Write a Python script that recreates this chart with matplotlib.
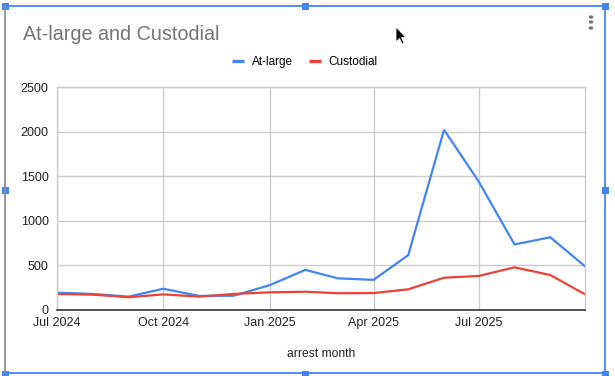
import matplotlib
matplotlib.use("Agg")
import matplotlib.pyplot as plt
import matplotlib.dates as mdates
from matplotlib.lines import Line2D
from matplotlib.patches import Rectangle, Polygon, Circle
import pandas as pd

# ---------------------------------------------------------------------------
# Data
# ---------------------------------------------------------------------------

months = pd.date_range("2024-07-01", "2025-10-01", freq="MS")
at_large = [194, 180, 150, 238, 158, 160, 278, 450, 355, 338, 615, 2020, 1440, 735, 815, 490]
custodial = [180, 172, 143, 175, 150, 180, 198, 205, 188, 190, 232, 362, 382, 478, 392, 176]
tick_months = pd.to_datetime(["2024-07-01", "2024-10-01", "2025-01-01", "2025-04-01", "2025-07-01"])
y_ticks = [0, 500, 1000, 1500, 2000, 2500]

BLUE = "#4285F4"
RED = "#EA4335"
GRID = "#cccccc"

plt.rcParams["font.family"] = ["Liberation Sans", "DejaVu Sans"]

W, H = 615, 376
fig = plt.figure(figsize=(W / 100, H / 100), dpi=100)
ax = fig.add_axes([57 / W, 1 - 310 / H, (585 - 57) / W, (310 - 87) / H])

ax.plot(months, at_large, color=BLUE, lw=1.6, solid_joinstyle="miter")
ax.plot(months, custodial, color=RED, lw=1.6, solid_joinstyle="miter")

ax.set_xlim(months[0], months[-1])
ax.set_ylim(0, 2500)
ax.set_yticks(y_ticks)
ax.set_xticks(tick_months)
ax.xaxis.set_major_formatter(mdates.DateFormatter("%b %Y"))
ax.tick_params(length=0, labelsize=9, colors="#222222")
ax.tick_params(axis="y", pad=6)
ax.tick_params(axis="x", pad=5)
ax.grid(True, color=GRID, lw=1)
ax.set_axisbelow(True)
for side in ("left", "right", "top"):
    ax.spines[side].set_color(GRID)
    ax.spines[side].set_linewidth(1)
ax.spines["bottom"].set_color("#333333")
ax.spines["bottom"].set_linewidth(1.2)
ax.set_xlabel("arrest month", fontsize=8.7, color="#222222", labelpad=14)

# title and legend
fig.text(23 / W, 1 - 35 / H, "At-large and Custodial", fontsize=14.2, color="#757575",
         ha="left", va="center")
handles = [Line2D([], [], color=BLUE, lw=2.4, solid_capstyle="butt"),
           Line2D([], [], color=RED, lw=2.4, solid_capstyle="butt")]
fig.legend(handles, ["At-large", "Custodial"], loc="center", bbox_to_anchor=(305 / W, 1 - 62 / H),
           ncol=2, frameon=False, fontsize=8.5, handlelength=1.0, handletextpad=0.65,
           columnspacing=1.4)

# selection frame of the chart editor
fig.add_artist(Line2D([5 / W, 605 / W, 605 / W], [1 - 373 / H, 1 - 373 / H, 1 - 6 / H],
                      transform=fig.transFigure, color=BLUE, lw=1.3))
fig.add_artist(Line2D([5 / W, 605 / W], [1 - 6 / H, 1 - 6 / H],
                      transform=fig.transFigure, color=BLUE, lw=1.3))
fig.add_artist(Line2D([5 / W, 5 / W], [1 - 6 / H, 1 - 373 / H],
                      transform=fig.transFigure, color="#8a8f99", lw=1.3))
for hx, hy in [(5, 6), (305, 6), (605, 6), (5, 190), (605, 190), (5, 375), (305, 375), (605, 375)]:
    fig.add_artist(Rectangle(((hx - 3.5) / W, 1 - (hy + 3.5) / H), 7 / W, 7 / H,
                             transform=fig.transFigure, color=BLUE, lw=0))

# menu dots
for dy in (17, 22, 28):
    fig.add_artist(Circle((591 / W, 1 - dy / H), 1.6 / W,
                          transform=fig.transFigure, color="#757575"))

# mouse cursor
cx, cy = 396, 27
pts = [(0, 0), (0, 15), (3.5, 11.5), (6, 17), (8, 16), (5.5, 10.5), (10, 10.5)]
fig.add_artist(Polygon([((cx + px) / W, 1 - (cy + py) / H) for px, py in pts],
                       closed=True, transform=fig.transFigure, fc="black", ec="white", lw=0.6))

fig.savefig("out.png", dpi=100)
